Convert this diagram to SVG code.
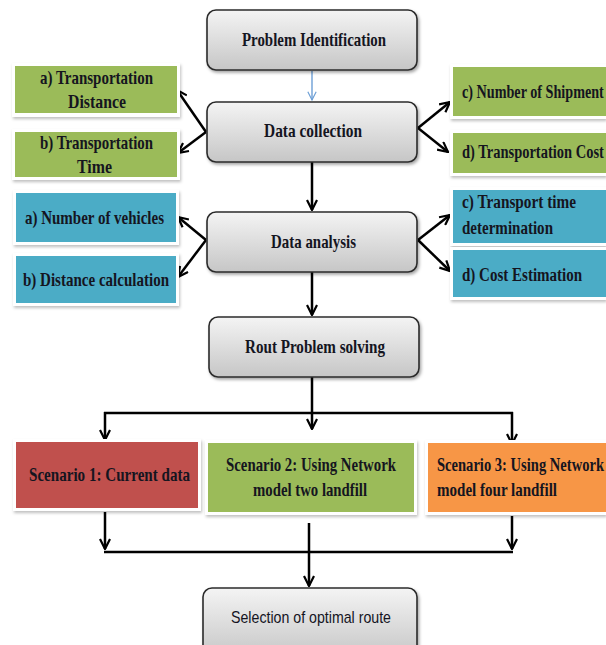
<svg xmlns="http://www.w3.org/2000/svg" width="606" height="645" viewBox="0 0 606 645">
<style>
.t{font-family:"Liberation Serif","Times New Roman",serif;font-weight:bold;font-size:19px;fill:#15151f}
.s{font-family:"Liberation Sans",Arial,sans-serif;font-size:17px;fill:#15151f}
.gb{fill:url(#gg);stroke:#2b2b2b;stroke-width:1.6;filter:url(#sh)}
.wb{fill:#fff;filter:url(#sh2)}
.green{fill:#9BBB59}.blue{fill:#4BACC6}.red{fill:#C0504D}.orange{fill:#F79646}
.c{fill:none;stroke:#000;stroke-width:2.5}
</style>
<defs>
<linearGradient id="gg" x1="0" y1="0" x2="0" y2="1">
<stop offset="0" stop-color="#f4f4f4"/><stop offset="1" stop-color="#c6c6c6"/>
</linearGradient>
<filter id="sh" x="-10%" y="-20%" width="130%" height="150%">
<feDropShadow dx="1.5" dy="2" stdDeviation="1.5" flood-color="#000" flood-opacity="0.35"/>
</filter>
<filter id="sh2" x="-10%" y="-20%" width="130%" height="150%">
<feDropShadow dx="1" dy="2" stdDeviation="1.5" flood-color="#000" flood-opacity="0.25"/>
</filter>
<marker id="ah" viewBox="0 0 12 12" refX="11" refY="6" markerWidth="12" markerHeight="12" markerUnits="userSpaceOnUse" orient="auto">
<path d="M1,1 L11,6 L1,11" fill="none" stroke="#000" stroke-width="2.2"/>
</marker>
<marker id="ahb" viewBox="0 0 12 12" refX="11" refY="6" markerWidth="10" markerHeight="10" markerUnits="userSpaceOnUse" orient="auto">
<path d="M1,1 L11,6 L1,11" fill="none" stroke="#6d9fd6" stroke-width="1.4"/>
</marker>
</defs>

<g id="connectors">
<line x1="312" y1="71" x2="312" y2="100" stroke="#6d9fd6" stroke-width="1.4" marker-end="url(#ahb)"/>
<line class="c" x1="206" y1="132" x2="177" y2="90" marker-end="url(#ah)"/>
<line class="c" x1="206" y1="132" x2="178" y2="153" marker-end="url(#ah)"/>
<line class="c" x1="418" y1="128" x2="450" y2="102" marker-end="url(#ah)"/>
<line class="c" x1="418" y1="128" x2="448" y2="152" marker-end="url(#ah)"/>
<line class="c" x1="312" y1="162" x2="312" y2="210" marker-end="url(#ah)"/>
<line class="c" x1="206" y1="240" x2="178" y2="217" marker-end="url(#ah)"/>
<line class="c" x1="206" y1="240" x2="178" y2="277" marker-end="url(#ah)"/>
<line class="c" x1="418" y1="240" x2="450" y2="215" marker-end="url(#ah)"/>
<line class="c" x1="418" y1="240" x2="450" y2="271" marker-end="url(#ah)"/>
<line class="c" x1="312" y1="272" x2="312" y2="315" marker-end="url(#ah)"/>
<line class="c" x1="312" y1="377" x2="312" y2="429" marker-end="url(#ah)"/>
<line class="c" x1="104" y1="413" x2="513" y2="413"/>
<line class="c" x1="105" y1="412" x2="105" y2="440" marker-end="url(#ah)"/>
<line class="c" x1="512" y1="412" x2="512" y2="444" marker-end="url(#ah)"/>
<line class="c" x1="105" y1="512" x2="105" y2="549" marker-end="url(#ah)"/>
<line class="c" x1="512" y1="516" x2="512" y2="549" marker-end="url(#ah)"/>
<line class="c" x1="104" y1="552" x2="513" y2="552"/>
<line class="c" x1="309" y1="523" x2="309" y2="586" marker-end="url(#ah)"/>
</g>

<g id="problem-identification">
<rect class="gb" x="207" y="10" width="210" height="60" rx="9"/>
<text class="t" x="242" y="46" textLength="144" lengthAdjust="spacingAndGlyphs">Problem Identification</text>
</g>
<g id="data-collection">
<rect class="gb" x="207" y="102" width="210" height="60" rx="9"/>
<text class="t" x="264" y="137" textLength="98" lengthAdjust="spacingAndGlyphs">Data collection</text>
</g>
<g id="transportation-distance">
<rect class="wb" x="12" y="63" width="168" height="54"/>
<rect class="green" x="15" y="66" width="162" height="47"/>
<text class="t" x="40" y="84" textLength="113" lengthAdjust="spacingAndGlyphs">a) Transportation</text>
<text class="t" x="68" y="108" textLength="58" lengthAdjust="spacingAndGlyphs">Distance</text>
</g>
<g id="transportation-time">
<rect class="wb" x="12" y="129" width="168" height="51"/>
<rect class="green" x="15" y="132" width="162" height="45"/>
<text class="t" x="40" y="149" textLength="113" lengthAdjust="spacingAndGlyphs">b) Transportation</text>
<text class="t" x="77" y="173" textLength="35" lengthAdjust="spacingAndGlyphs">Time</text>
</g>
<g id="number-of-shipment">
<rect class="wb" x="450" y="64" width="156" height="55"/>
<rect class="green" x="453" y="67" width="153" height="49"/>
<text class="t" transform="translate(462,98) scale(0.72,1)" textLength="197" lengthAdjust="spacingAndGlyphs">c) Number of Shipment</text>
</g>
<g id="transportation-cost">
<rect class="wb" x="450" y="130" width="156" height="46"/>
<rect class="green" x="453" y="133" width="153" height="40"/>
<text class="t" transform="translate(462,158) scale(0.72,1)" textLength="197" lengthAdjust="spacingAndGlyphs">d) Transportation Cost</text>
</g>

<g id="data-analysis">
<rect class="gb" x="207" y="212" width="210" height="60" rx="9"/>
<text class="t" x="271" y="248" textLength="85" lengthAdjust="spacingAndGlyphs">Data analysis</text>
</g>
<g id="number-of-vehicles">
<rect class="wb" x="13" y="190" width="166" height="55"/>
<rect class="blue" x="16" y="193" width="160" height="49"/>
<text class="t" x="25" y="224" textLength="139" lengthAdjust="spacingAndGlyphs">a) Number of vehicles</text>
</g>
<g id="distance-calculation">
<rect class="wb" x="13" y="253" width="166" height="53"/>
<rect class="blue" x="16" y="256" width="160" height="47"/>
<text class="t" x="23" y="286" textLength="146" lengthAdjust="spacingAndGlyphs">b) Distance calculation</text>
</g>
<g id="transport-time-determination">
<rect class="wb" x="450" y="187" width="156" height="59"/>
<rect class="blue" x="453" y="190" width="153" height="53"/>
<text class="t" transform="translate(462,208) scale(0.8,1)" textLength="142.5" lengthAdjust="spacingAndGlyphs">c) Transport time</text>
<text class="t" x="462" y="234" textLength="91" lengthAdjust="spacingAndGlyphs">determination</text>
</g>
<g id="cost-estimation">
<rect class="wb" x="450" y="247" width="156" height="53"/>
<rect class="blue" x="453" y="250" width="153" height="47"/>
<text class="t" transform="translate(462,281) scale(0.78,1)" textLength="154" lengthAdjust="spacingAndGlyphs">d) Cost Estimation</text>
</g>

<g id="rout-problem-solving">
<rect class="gb" x="209" y="317" width="210" height="60" rx="9"/>
<text class="t" x="245" y="353" textLength="140" lengthAdjust="spacingAndGlyphs">Rout Problem solving</text>
</g>

<g id="scenario-1">
<rect class="wb" x="13" y="439" width="188" height="72"/>
<rect class="red" x="16" y="442" width="182" height="66"/>
<text class="t" x="29" y="481" textLength="161" lengthAdjust="spacingAndGlyphs">Scenario  1: Current data</text>
</g>
<g id="scenario-2">
<rect class="wb" x="205" y="440" width="212" height="75"/>
<rect class="green" x="208" y="443" width="206" height="69"/>
<text class="t" x="226" y="471" textLength="170" lengthAdjust="spacingAndGlyphs">Scenario 2: Using Network</text>
<text class="t" x="253" y="496" textLength="114" lengthAdjust="spacingAndGlyphs">model two landfill</text>
</g>
<g id="scenario-3">
<rect class="wb" x="425" y="440" width="181" height="75"/>
<rect class="orange" x="428" y="443" width="178" height="69"/>
<text class="t" transform="translate(437,471) scale(0.72,1)" textLength="232" lengthAdjust="spacingAndGlyphs">Scenario 3: Using Network</text>
<text class="t" transform="translate(437,496) scale(0.75,1)" textLength="160" lengthAdjust="spacingAndGlyphs">model four landfill</text>
</g>

<g id="selection-of-optimal-route">
<rect class="gb" x="203" y="588" width="214" height="70" rx="9"/>
<text class="s" x="231" y="623" textLength="160" lengthAdjust="spacingAndGlyphs">Selection of optimal route</text>
</g>
</svg>
